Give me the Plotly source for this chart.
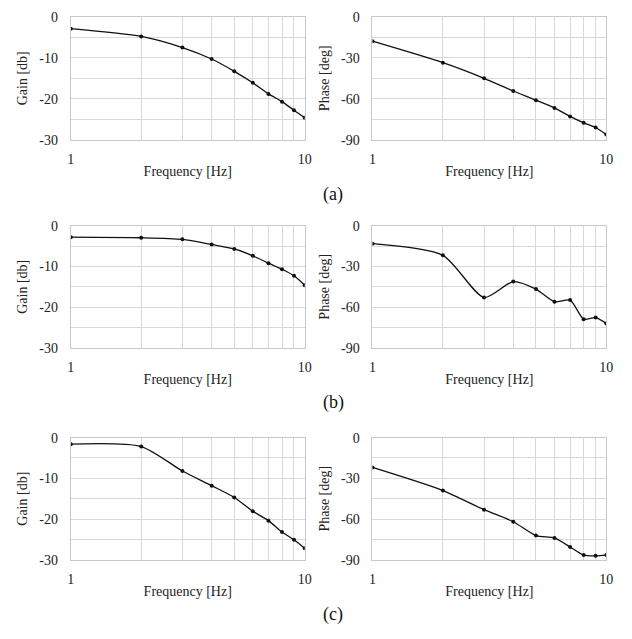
import plotly.graph_objects as go

freq = [1, 2, 3, 4, 5, 6, 7, 8, 9, 10]

gain_a = [-2.9, -4.8, -7.5, -10.3, -13.3, -16.1, -18.8, -20.7, -22.8, -24.6]
phase_a = [-17.9, -33.6, -45.0, -54.3, -61.0, -66.7, -72.9, -77.6, -81.0, -86.2]

gain_b = [-2.8, -2.95, -3.35, -4.6, -5.7, -7.4, -9.2, -10.7, -12.3, -14.6]
phase_b = [-13.2, -21.8, -52.9, -41.2, -46.7, -56.0, -54.8, -68.9, -67.7, -72.0]

gain_c = [-1.6, -2.2, -8.2, -11.8, -14.7, -18.1, -20.4, -23.2, -25.1, -27.2]
phase_c = [-22.0, -39.0, -53.1, -62.0, -72.2, -73.9, -80.6, -86.6, -87.1, -86.6]

panel_labels = ["(a)", "(b)", "(c)"]
gain_ticks = [0, -5, -10, -15, -20, -25, -30]
gain_text = ["0", "", "-10", "", "-20", "", "-30"]
phase_ticks = [0, -15, -30, -45, -60, -75, -90]
phase_text = ["0", "", "-30", "", "-60", "", "-90"]
x_ticks = [1, 2, 3, 4, 5, 6, 7, 8, 9, 10]
x_text = ["1", "", "", "", "", "", "", "", "", "10"]

W, H = 632, 639
FONT = "Liberation Serif"

# pixel layout
left_x = (68, 306)
right_x = (375, 613)
rows_y = [(10, 136), (224, 349), (441, 566)]
label_y = [192, 405, 622]

fig = go.Figure()

series = [(gain_a, phase_a), (gain_b, phase_b), (gain_c, phase_c)]

ax_i = 0
for r, (g, p) in enumerate(series):
    y0, y1 = rows_y[r]
    ydom = [1 - y1 / H, 1 - y0 / H]
    for c, (vals, xr, ticks, ttext, rng, title) in enumerate([
        (g, left_x, gain_ticks, gain_text, [-30, 0], "Gain [db]"),
        (p, right_x, phase_ticks, phase_text, [-90, 0], "Phase [deg]"),
    ]):
        ax_i += 1
        sfx = "" if ax_i == 1 else str(ax_i)
        fig.add_trace(go.Scatter(
            x=freq, y=vals, mode="lines+markers",
            line=dict(color="#111111", width=1.3, shape="spline", smoothing=0.7),
            marker=dict(color="#111111", size=4),
            xaxis="x" + sfx, yaxis="y" + sfx, showlegend=False,
        ))
        xdom = [xr[0] / W, xr[1] / W]
        fig.update_layout(**{
            "xaxis" + sfx: dict(
                domain=xdom, anchor="y" + sfx, type="log", range=[0, 1],
                tickvals=x_ticks, ticktext=x_text,
                showgrid=True, gridcolor="#d9d9d9", gridwidth=1,
                showline=True, mirror=True, linecolor="#c8c8c8", linewidth=1,
                ticks="outside", ticklen=6, tickcolor="rgba(0,0,0,0)",
                tickfont=dict(family=FONT, size=14, color="#222222"),
                title=dict(text="Frequency [Hz]", standoff=0,
                           font=dict(family=FONT, size=14, color="#222222")),
                zeroline=False, fixedrange=True,
            ),
            "yaxis" + sfx: dict(
                domain=ydom, anchor="x" + sfx, range=rng,
                tickvals=ticks, ticktext=ttext,
                showgrid=True, gridcolor="#d9d9d9", gridwidth=1,
                showline=True, mirror=True, linecolor="#c8c8c8", linewidth=1,
                ticks="outside", ticklen=9, tickcolor="rgba(0,0,0,0)",
                tickfont=dict(family=FONT, size=14, color="#222222"),
                title=dict(text=title, standoff=8,
                           font=dict(family=FONT, size=14, color="#222222")),
                zeroline=False, fixedrange=True,
            ),
        })

for r, lab in enumerate(panel_labels):
    fig.add_annotation(
        text=lab, xref="paper", yref="paper",
        x=335 / W, y=1 - label_y[r] / H, xanchor="center", yanchor="middle",
        showarrow=False, font=dict(family=FONT, size=18, color="#111111"),
    )

fig.update_layout(
    width=W, height=H, margin=dict(l=0, r=0, t=0, b=0),
    paper_bgcolor="white", plot_bgcolor="white",
)

fig.write_html("out.html")
